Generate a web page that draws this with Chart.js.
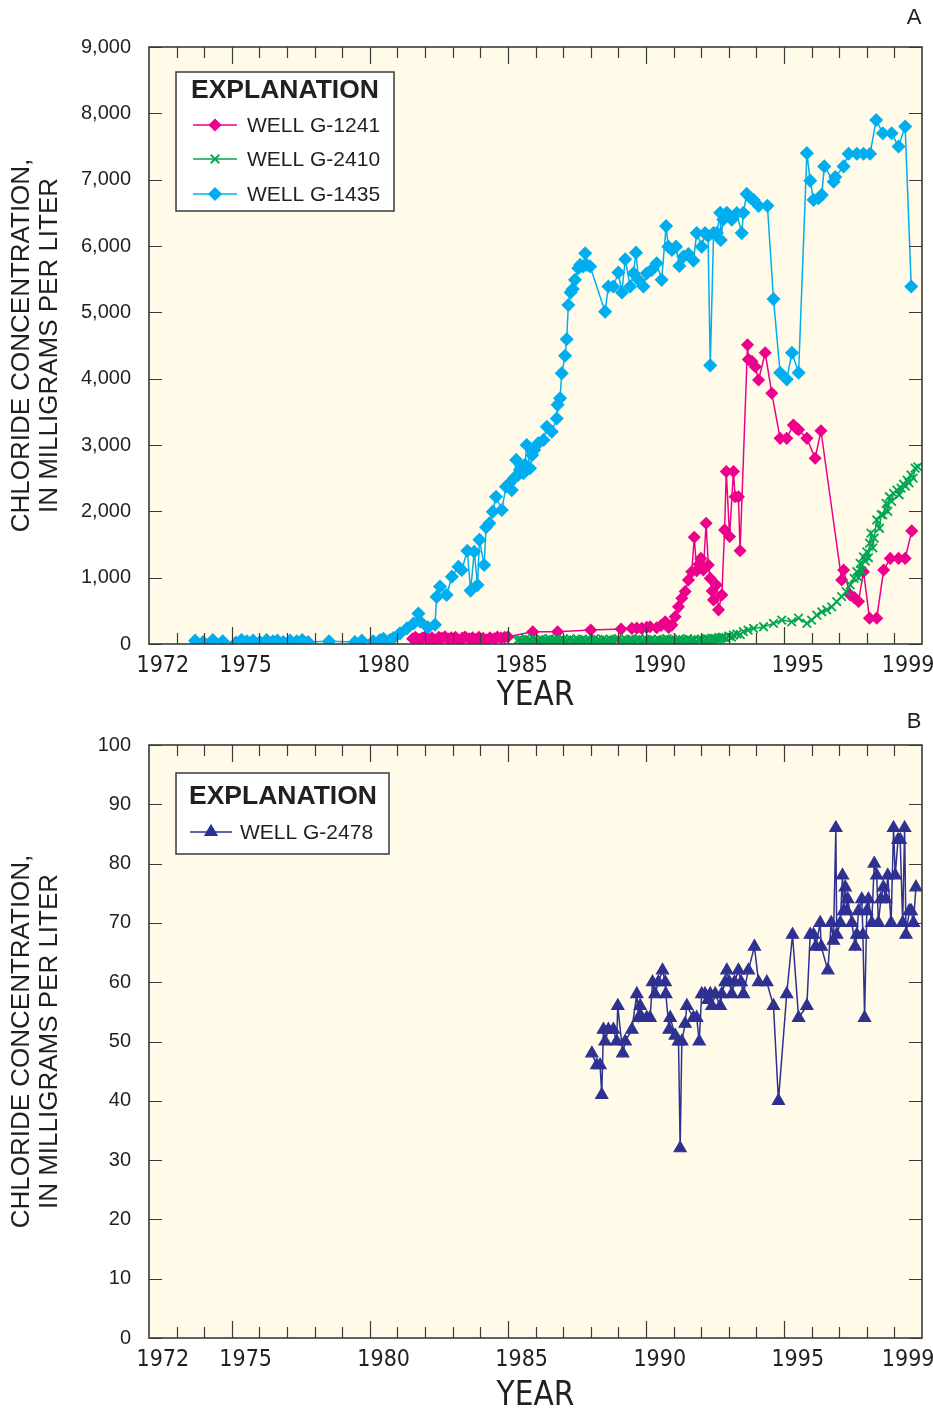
<!DOCTYPE html>
<html>
<head>
<meta charset="utf-8">
<title>Chloride concentration in wells</title>
<script src="https://cdn.jsdelivr.net/npm/chart.js@4.4.0/dist/chart.umd.min.js"></script>
<style>
  html, body { margin: 0; padding: 0; background: #fff; }
  canvas { position: absolute; left: 0; }
  #chartA { top: 0; }
  #chartB { top: 705px; }
</style>
</head>
<body>
<canvas id="chartA" width="933" height="710"></canvas>
<canvas id="chartB" width="933" height="703"></canvas>
<script>
// x-axis labels (centred in their year) and y-axis ticks
const yearLabels = [1972, 1975, 1980, 1985, 1990, 1995, 1999];
const ticksA = [0, 1000, 2000, 3000, 4000, 5000, 6000, 7000, 8000, 9000];
const ticksB = [0, 10, 20, 30, 40, 50, 60, 70, 80, 90, 100];

// WELL G-1241 (mg/L)
const g1241Years = [
  1981.55, 1981.65, 1981.78, 1981.90, 1982.00, 1982.12, 1982.25, 1982.36, 1982.50, 1982.60,
  1982.72, 1982.85, 1982.95, 1983.10, 1983.22, 1983.35, 1983.45, 1983.60, 1983.72, 1983.85,
  1983.95, 1984.10, 1984.22, 1984.35, 1984.50, 1984.62, 1984.75, 1984.88, 1985.00, 1985.90,
  1986.80, 1988.00, 1989.10, 1989.49, 1989.67, 1989.85, 1990.03, 1990.15, 1990.39, 1990.55,
  1990.70, 1990.82, 1990.94, 1991.06, 1991.18, 1991.30, 1991.42, 1991.54, 1991.66, 1991.75,
  1991.84, 1991.92, 1991.99, 1992.08, 1992.18, 1992.26, 1992.33, 1992.40, 1992.45, 1992.55,
  1992.63, 1992.75, 1992.85, 1992.91, 1993.03, 1993.17, 1993.23, 1993.35, 1993.41, 1993.68,
  1993.71, 1993.84, 1993.96, 1994.08, 1994.32, 1994.56, 1994.86, 1995.10, 1995.34, 1995.45,
  1995.53, 1995.83, 1996.13, 1996.34, 1997.09, 1997.16, 1997.40, 1997.55, 1997.70, 1997.88,
  1998.10, 1998.36, 1998.61, 1998.85, 1999.15, 1999.39, 1999.63
];
const g1241Values = [
  80, 100, 70, 90, 110, 80, 95, 60, 100, 85,
  110, 75, 95, 100, 60, 90, 105, 80, 95, 70,
  100, 85, 60, 95, 80, 105, 90, 100, 110, 185,
  185, 210, 225, 235, 240, 235, 250, 260, 245, 280,
  335, 250, 285, 410, 560, 690, 790, 965, 1090, 1610,
  1105, 1200, 1290, 1115, 1820, 1190, 990, 800, 665, 890,
  515, 740, 1720, 2600, 1620, 2600, 2220, 2220, 1405, 4510,
  4290, 4260, 4180, 3980, 4390, 3780, 3100, 3100, 3300, 3250,
  3230, 3100, 2800, 3215, 965, 1115, 740, 700, 640, 1090,
  390, 390, 1115, 1290, 1290, 1290, 1705
];

// WELL G-2410 (mg/L)
const g2410Years = [
  1985.35, 1985.40, 1985.45, 1985.51, 1985.58, 1985.64, 1985.70, 1985.76, 1985.82, 1985.88,
  1985.95, 1986.01, 1986.08, 1986.14, 1986.20, 1986.26, 1986.33, 1986.39, 1986.45, 1986.51,
  1986.58, 1986.64, 1986.70, 1986.76, 1986.83, 1986.89, 1986.95, 1987.01, 1987.08, 1987.14,
  1987.20, 1987.26, 1987.33, 1987.39, 1987.45, 1987.51, 1987.58, 1987.64, 1987.70, 1987.76,
  1987.83, 1987.89, 1987.95, 1988.01, 1988.08, 1988.14, 1988.20, 1988.26, 1988.33, 1988.39,
  1988.45, 1988.51, 1988.58, 1988.64, 1988.70, 1988.76, 1988.83, 1988.89, 1988.95, 1989.01,
  1989.08, 1989.14, 1989.20, 1989.26, 1989.33, 1989.39, 1989.45, 1989.51, 1989.58, 1989.64,
  1989.70, 1989.76, 1989.83, 1989.89, 1989.95, 1990.01, 1990.08, 1990.14, 1990.20, 1990.26,
  1990.33, 1990.39, 1990.45, 1990.51, 1990.58, 1990.64, 1990.70, 1990.76, 1990.83, 1990.89,
  1990.95, 1991.01, 1991.08, 1991.14, 1991.20, 1991.26, 1991.33, 1991.39, 1991.45, 1991.51,
  1991.58, 1991.64, 1991.70, 1991.76, 1991.83, 1991.89, 1991.95, 1992.01, 1992.08, 1992.14,
  1992.20, 1992.26, 1992.33, 1992.39, 1992.45, 1992.51, 1992.58, 1992.64, 1992.70, 1992.75,
  1992.80, 1992.90, 1993.00, 1993.10, 1993.17, 1993.30, 1993.42, 1993.53, 1993.70, 1993.90,
  1994.26, 1994.62, 1994.92, 1995.28, 1995.53, 1995.83, 1996.00, 1996.19, 1996.37, 1996.55,
  1996.73, 1996.91, 1997.09, 1997.25, 1997.40, 1997.54, 1997.64, 1997.70, 1997.76, 1997.82,
  1997.88, 1997.95, 1998.00, 1998.06, 1998.10, 1998.15, 1998.22, 1998.27, 1998.36, 1998.46,
  1998.52, 1998.58, 1998.70, 1998.76, 1998.82, 1998.90, 1998.97, 1999.09, 1999.17, 1999.24,
  1999.33, 1999.40, 1999.46, 1999.53, 1999.60, 1999.68, 1999.75, 1999.85
];
const g2410Values = [
  50, 70, 30, 60, 45, 80, 40, 65, 55, 35,
  70, 45, 60, 30, 75, 50, 40, 65, 35, 80,
  55, 40, 70, 50, 30, 65, 45, 75, 35, 60,
  50, 80, 40, 60, 35, 70, 55, 45, 75, 30,
  60, 45, 70, 35, 55, 80, 40, 65, 50, 30,
  70, 45, 60, 35, 75, 50, 40, 65, 55, 80,
  45, 60, 30, 70, 50, 40, 75, 55, 35, 65,
  50, 80, 40, 60, 35, 70, 45, 55, 75, 30,
  60, 45, 70, 50, 35, 65, 40, 80, 55, 45,
  70, 35, 60, 50, 75, 40, 65, 45, 55, 80,
  40, 60, 50, 70, 35, 65, 55, 75, 45, 60,
  80, 55, 70, 90, 65, 85, 75, 95, 80, 100,
  100, 90, 120, 105, 135, 150, 140, 185, 210, 235,
  260, 310, 360, 335, 390, 310, 360, 435, 485, 515,
  560, 640, 715, 790, 890, 990, 1090, 1000, 1215, 1100,
  1315, 1250, 1390, 1300, 1520, 1670, 1450, 1595, 1870, 1745,
  1950, 1945, 2120, 2000, 2220, 2150, 2270, 2320, 2250, 2350,
  2410, 2380, 2470, 2430, 2550, 2500, 2650, 2670
];

// WELL G-1435 (mg/L)
const g1435Years = [
  1973.67, 1973.96, 1974.31, 1974.67, 1975.15, 1975.35, 1975.55, 1975.77, 1976.02, 1976.26,
  1976.49, 1976.65, 1976.86, 1977.11, 1977.35, 1977.55, 1977.76, 1978.52, 1979.46, 1979.71,
  1980.12, 1980.37, 1980.49, 1980.73, 1980.85, 1981.09, 1981.34, 1981.58, 1981.76, 1981.82,
  1982.10, 1982.36, 1982.42, 1982.54, 1982.78, 1982.97, 1983.21, 1983.33, 1983.53, 1983.65,
  1983.78, 1983.90, 1983.97, 1984.14, 1984.21, 1984.33, 1984.45, 1984.57, 1984.78, 1984.93,
  1985.05, 1985.14, 1985.22, 1985.30, 1985.37, 1985.44, 1985.56, 1985.62, 1985.68, 1985.80,
  1985.88, 1985.95, 1986.10, 1986.29, 1986.41, 1986.59, 1986.77, 1986.80, 1986.89, 1986.95,
  1987.07, 1987.13, 1987.19, 1987.27, 1987.35, 1987.43, 1987.55, 1987.62, 1987.72, 1987.80,
  1987.86, 1987.98, 1988.52, 1988.64, 1988.82, 1989.00, 1989.13, 1989.25, 1989.43, 1989.55,
  1989.64, 1989.73, 1989.91, 1990.03, 1990.21, 1990.39, 1990.57, 1990.73, 1990.81, 1990.94,
  1991.09, 1991.21, 1991.36, 1991.54, 1991.72, 1991.84, 1992.02, 1992.14, 1992.25, 1992.33,
  1992.45, 1992.57, 1992.69, 1992.71, 1992.80, 1992.93, 1993.11, 1993.29, 1993.47, 1993.53,
  1993.65, 1993.80, 1993.90, 1994.08, 1994.40, 1994.62, 1994.86, 1995.10, 1995.29, 1995.53,
  1995.83, 1995.95, 1996.07, 1996.25, 1996.37, 1996.46, 1996.80, 1996.86, 1997.16, 1997.34,
  1997.64, 1997.88, 1998.12, 1998.34, 1998.58, 1998.90, 1999.15, 1999.39, 1999.61
];
const g1435Values = [
  50, 30, 60, 40, 20, 60, 40, 50, 30, 60,
  40, 50, 30, 50, 40, 60, 30, 40, 30, 50,
  40, 60, 80, 60, 90, 160, 235, 310, 460, 340,
  250, 290, 710, 865, 740, 1015, 1165, 1115, 1405, 805,
  1390, 890, 1570, 1190, 1760, 1820, 1995, 2220, 2020, 2370,
  2420, 2320, 2500, 2775, 2550, 2625, 2575, 2700, 3000, 2650,
  2850, 2925, 3025, 3075, 3275, 3200, 3400, 3605, 3705, 4080,
  4345, 4595, 5110, 5300, 5350, 5490, 5665, 5715, 5690, 5890,
  5715, 5690, 5010, 5390, 5390, 5600, 5300, 5800, 5390, 5590,
  5900, 5490, 5390, 5590, 5640, 5740, 5490, 6300, 5990, 5940,
  5990, 5700, 5840, 5880, 5780, 6195, 5990, 6195, 6150, 4200,
  6195, 6195, 6500, 6090, 6400, 6500, 6395, 6495, 6195, 6500,
  6785, 6720, 6695, 6605, 6605, 5200, 4090, 3990, 4390, 4090,
  7400, 6985, 6695, 6720, 6770, 7200, 6970, 7040, 7200, 7390,
  7390, 7390, 7390, 7900, 7700, 7700, 7500, 7800, 5390
];

// WELL G-2478 (mg/L)
const g2478Years = [
  1988.04, 1988.22, 1988.34, 1988.40, 1988.46, 1988.52, 1988.64, 1988.82, 1988.94, 1988.98,
  1989.16, 1989.25, 1989.49, 1989.67, 1989.73, 1989.79, 1989.85, 1990.03, 1990.15, 1990.24,
  1990.33, 1990.45, 1990.60, 1990.70, 1990.72, 1990.84, 1990.88, 1991.06, 1991.18, 1991.24,
  1991.30, 1991.42, 1991.48, 1991.72, 1991.84, 1991.93, 1992.02, 1992.14, 1992.25, 1992.33,
  1992.39, 1992.51, 1992.69, 1992.75, 1992.87, 1992.93, 1993.02, 1993.11, 1993.21, 1993.35,
  1993.45, 1993.53, 1993.71, 1993.93, 1994.08, 1994.38, 1994.62, 1994.80, 1995.10, 1995.31,
  1995.53, 1995.83, 1995.95, 1996.07, 1996.15, 1996.31, 1996.35, 1996.59, 1996.71, 1996.79,
  1996.88, 1996.91, 1997.04, 1997.12, 1997.16, 1997.22, 1997.28, 1997.31, 1997.46, 1997.58,
  1997.64, 1997.70, 1997.82, 1997.86, 1997.92, 1998.00, 1998.06, 1998.18, 1998.27, 1998.36,
  1998.42, 1998.51, 1998.60, 1998.69, 1998.76, 1998.88, 1998.97, 1999.03, 1999.13, 1999.21,
  1999.30, 1999.37, 1999.42, 1999.54, 1999.61, 1999.69, 1999.78
];
const g2478Values = [
  48, 46, 46, 41, 52, 50, 52, 52, 50, 56,
  48, 50, 52, 58, 54, 56, 54, 54, 54, 60,
  58, 60, 62, 60, 58, 52, 54, 51, 50, 32,
  50, 53, 56, 54, 54, 50, 58, 58, 57, 58,
  56, 58, 56, 58, 60, 62, 60, 58, 60, 62,
  60, 58, 62, 66, 60, 60, 56, 40, 58, 68,
  54, 56, 68, 68, 66, 70, 66, 62, 70, 67,
  86, 68, 70, 78, 72, 76, 72, 74, 70, 66,
  68, 72, 74, 68, 54, 72, 74, 70, 80, 78,
  70, 74, 76, 74, 78, 70, 86, 78, 84, 84,
  70, 86, 68, 72, 72, 70, 76
];

const FONT = "'Liberation Sans', Arial, sans-serif";
const NARROW = "'Liberation Sans Narrow', 'DejaVu Sans Condensed', 'Liberation Sans', sans-serif";
const INK = '#231f20';
const FRAME = '#3a3a3a';
const PLOT_BG = '#fffbe8';

function series(label, years, values, color, style, radius, border, order) {
  return {
    label: label,
    data: years.map((yr, i) => ({x: yr, y: values[i]})),
    borderColor: color,
    backgroundColor: color,
    pointBackgroundColor: color,
    pointBorderColor: color,
    pointStyle: style,
    pointRadius: radius,
    pointBorderWidth: border,
    borderWidth: 1.5,
    tension: 0,
    fill: false,
    order: order
  };
}

// cream plot area, then inward ticks and the frame over the data
const plotFrame = {
  id: 'plotFrame',
  beforeDatasetsDraw(chart) {
    const {ctx, chartArea: a} = chart;
    ctx.save();
    ctx.fillStyle = PLOT_BG;
    ctx.fillRect(a.left, a.top, a.width, a.height);
    ctx.restore();
  },
  afterDatasetsDraw(chart) {
    const {ctx, chartArea: a, scales} = chart;
    ctx.save();
    ctx.strokeStyle = FRAME;
    ctx.lineWidth = 1.2;
    ctx.beginPath();
    for (let yr = 1973; yr < 2000; yr++) {
      const px = Math.round(scales.x.getPixelForValue(yr)) + 0.5;
      const len = yr % 5 === 0 ? 17 : 11;
      ctx.moveTo(px, a.bottom); ctx.lineTo(px, a.bottom - len);
      ctx.moveTo(px, a.top); ctx.lineTo(px, a.top + len);
    }
    scales.y.ticks.forEach(t => {
      const py = Math.round(scales.y.getPixelForValue(t.value)) + 0.5;
      ctx.moveTo(a.left, py); ctx.lineTo(a.left + 13, py);
      ctx.moveTo(a.right, py); ctx.lineTo(a.right - 13, py);
    });
    ctx.stroke();
    ctx.lineWidth = 1.6;
    ctx.strokeRect(a.left, a.top, a.width, a.height);
    ctx.restore();
  }
};

// boxed "EXPLANATION" key, built from the datasets' own styles
const explanation = {
  id: 'explanation',
  afterDraw(chart, args, opts) {
    const {ctx} = chart;
    const [bx, by, bw, bh] = opts.box;
    ctx.save();
    ctx.fillStyle = '#ffffff';
    ctx.fillRect(bx, by, bw, bh);
    ctx.strokeStyle = FRAME;
    ctx.lineWidth = 1.5;
    ctx.strokeRect(bx, by, bw, bh);

    ctx.fillStyle = INK;
    ctx.textBaseline = 'middle';
    ctx.textAlign = 'center';
    ctx.font = 'bold 26.5px ' + FONT;
    ctx.fillText('EXPLANATION', opts.titleX, opts.titleY);

    chart.data.datasets.forEach((ds, i) => {
      const ry = opts.rowY[i];
      const mid = (opts.lineX[0] + opts.lineX[1]) / 2;
      ctx.strokeStyle = ds.borderColor;
      ctx.lineWidth = 1.5;
      ctx.beginPath();
      ctx.moveTo(opts.lineX[0], ry);
      ctx.lineTo(opts.lineX[1], ry);
      ctx.stroke();
      ctx.fillStyle = ds.pointBackgroundColor;
      ctx.lineWidth = ds.pointBorderWidth;
      Chart.helpers.drawPoint(ctx, {
        pointStyle: ds.pointStyle,
        radius: ds.pointRadius,
        borderWidth: ds.pointBorderWidth,
        rotation: 0
      }, mid, ry);
      ctx.fillStyle = INK;
      ctx.textAlign = 'left';
      ctx.font = '21px ' + FONT;
      ctx.fillText(ds.label, opts.textX, ry + 1);
    });
    ctx.restore();
  }
};

// panel letter in the top right corner
const panelLetter = {
  id: 'panelLetter',
  afterDraw(chart, args, opts) {
    const {ctx} = chart;
    ctx.save();
    ctx.fillStyle = INK;
    ctx.font = '22px ' + FONT;
    ctx.textAlign = 'center';
    ctx.textBaseline = 'middle';
    ctx.fillText(opts.text, opts.x, opts.y);
    ctx.restore();
  }
};

function buildOptions(cfg) {
  return {
    responsive: false,
    animation: false,
    devicePixelRatio: 1,
    layout: {padding: {left: 0, right: 11, top: cfg.top, bottom: 0}},
    plugins: {
      legend: {display: false},
      tooltip: {enabled: false},
      explanation: cfg.key,
      panelLetter: {text: cfg.letter, x: 914, y: cfg.letterY}
    },
    scales: {
      x: {
        type: 'linear',
        min: 1972,
        max: 2000,
        afterBuildTicks: s => { s.ticks = yearLabels.map(v => ({value: v + 0.5})); },
        afterFit: s => {
          s.height = cfg.xHeight;
          // keep the plot right edge fixed, the last label may overhang
          s.paddingLeft = 0;
          s.paddingRight = 0;
        },
        grid: {display: false, drawTicks: false},
        border: {display: false},
        ticks: {
          autoSkip: false,
          maxRotation: 0,
          padding: 8,
          color: INK,
          font: {family: NARROW, size: 23},
          callback: v => String(Math.round(v - 0.5))
        },
        title: {
          display: true,
          text: 'YEAR',
          color: INK,
          font: {family: NARROW, size: 33, lineHeight: 1},
          padding: {top: 0, bottom: cfg.yearPad}
        }
      },
      y: {
        min: 0,
        max: cfg.yMax,
        afterBuildTicks: s => { s.ticks = cfg.yTicks.map(v => ({value: v})); },
        afterFit: s => { s.width = 149; },
        grid: {display: false, drawTicks: false},
        border: {display: false},
        ticks: {
          padding: 18,
          color: INK,
          font: {family: FONT, size: 20},
          callback: v => v.toLocaleString('en-US')
        },
        title: {
          display: true,
          text: ['CHLORIDE CONCENTRATION,', 'IN MILLIGRAMS PER LITER'],
          color: INK,
          font: {family: FONT, size: 26, lineHeight: 1.08},
          padding: {top: 8, bottom: 0}
        }
      }
    }
  };
}

// 上图：三口井
new Chart(document.getElementById('chartA'), {
  type: 'line',
  data: {
    datasets: [
      series('WELL G-1241', g1241Years, g1241Values, '#ec008c', 'rectRot', 5.5, 1.5, 2),
      series('WELL G-2410', g2410Years, g2410Values, '#00a651', 'crossRot', 6, 1.8, 1),
      series('WELL G-1435', g1435Years, g1435Values, '#00aeef', 'rectRot', 6, 1.5, 0)
    ]
  },
  options: buildOptions({
    top: 47, xHeight: 66, yMax: 9000, yTicks: ticksA, letter: 'A', letterY: 18, yearPad: -3,
    key: {box: [176, 72, 218, 139], titleX: 285, titleY: 91, rowY: [125, 159, 194], lineX: [193, 237], textX: 247}
  }),
  plugins: [plotFrame, explanation, panelLetter]
});

// 下图：G-2478
new Chart(document.getElementById('chartB'), {
  type: 'line',
  data: {
    datasets: [
      series('WELL G-2478', g2478Years, g2478Values, '#2e3192', 'triangle', 7, 1.2, 0)
    ]
  },
  options: buildOptions({
    top: 40, xHeight: 70, yMax: 100, yTicks: ticksB, letter: 'B', letterY: 17, yearPad: -5,
    key: {box: [176, 68, 213, 81], titleX: 283, titleY: 92, rowY: [127], lineX: [190, 232], textX: 240}
  }),
  plugins: [plotFrame, explanation, panelLetter]
});
</script>
</body>
</html>
